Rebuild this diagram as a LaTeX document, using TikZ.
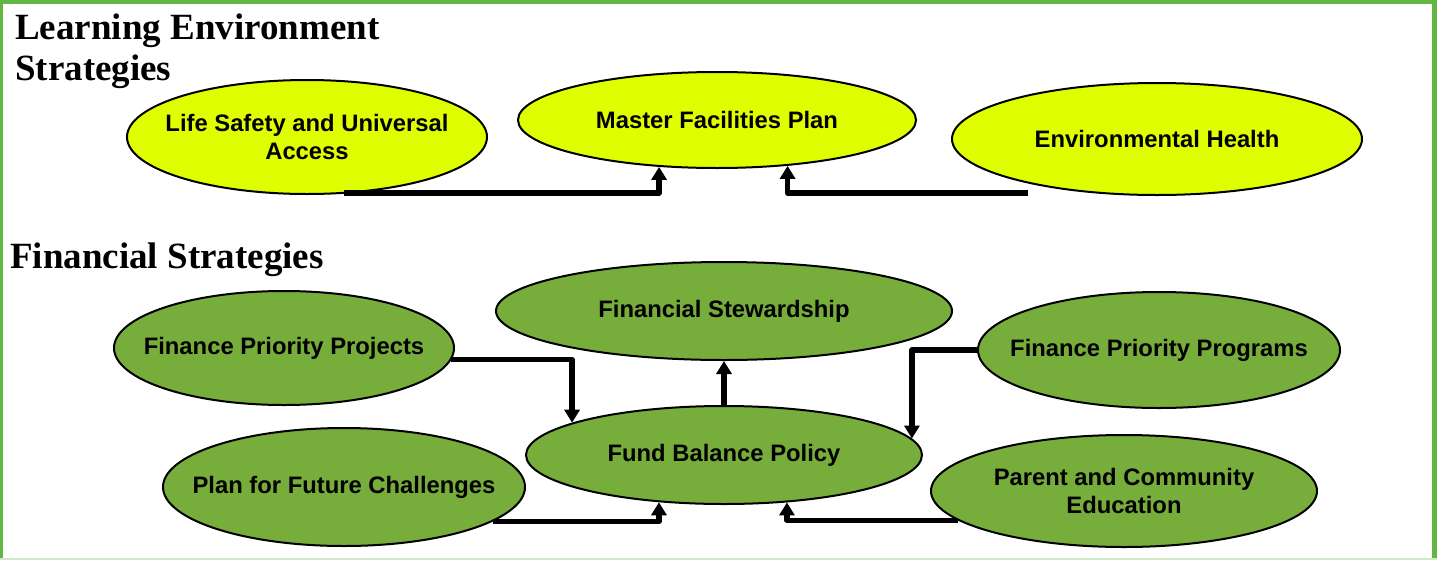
\documentclass[tikz,border=0pt]{standalone}
\usepackage{fontspec}
\setmainfont{Liberation Serif}
\setsansfont{Liberation Sans}
\usetikzlibrary{shapes.geometric,arrows.meta,calc}
\definecolor{ylw}{HTML}{DFFF00}
\definecolor{grn}{HTML}{77AD3B}
\definecolor{framegrn}{HTML}{62B744}
\begin{document}
\begin{tikzpicture}[x=1pt,y=-1pt,
  el/.style={ellipse, draw=black, line width=2pt, inner sep=-60pt,
    font=\sffamily\bfseries\fontsize{23.8}{28}\selectfont, align=center},
  conn/.style={line width=5.5pt, line join=round, -{Triangle[length=13pt,width=15pt]}},
  ttl/.style={font=\bfseries\fontsize{37}{41}\selectfont, inner sep=0pt, align=left}]
\useasboundingbox (0,0) rectangle (1437,560);
% frame
\fill[framegrn] (0,0) rectangle (1437,4);
\fill[framegrn] (0,0) rectangle (3,560);
\fill[framegrn] (1432,0) rectangle (1437,560);
\fill[framegrn!30] (0,558) rectangle (1437,560);
% titles
\node[ttl, anchor=north west] (t1) at (15,14) {Learning Environment\\Strategies};
\node[ttl, anchor=base west] (t2) at (10,268) {Financial Strategies};
% learning environment
\node[el, fill=ylw, minimum width=360pt, minimum height=114pt] (ls) at (307,137) {Life Safety and Universal\\Access};
\node[el, fill=ylw, minimum width=398pt, minimum height=96pt] (mf) at (717,120) {Master Facilities Plan};
\node[el, fill=ylw, minimum width=410pt, minimum height=112pt] (eh) at (1157,139) {Environmental Health};
% financial
\node[el, fill=grn, minimum width=456pt, minimum height=98pt] (fs) at (724,311) {Financial Stewardship};
\node[el, fill=grn, minimum width=340pt, minimum height=114pt] (fpp) at (284,348) {Finance Priority Projects};
\node[el, fill=grn, minimum width=362pt, minimum height=116pt] (fpg) at (1159,350) {Finance Priority Programs};
\node[el, fill=grn, minimum width=396pt, minimum height=98pt] (fb) at (724,455) {Fund Balance Policy};
\node[el, fill=grn, minimum width=362pt, minimum height=118pt] (pff) at (344,487) {Plan for Future Challenges};
\node[el, fill=grn, minimum width=386pt, minimum height=112pt] (pce) at (1124,491) {Parent and Community\\Education};
% connectors
\draw[conn] ($(ls.south)+(37,-2)$) -| (mf.-141);
\draw[conn] ($(eh.south)+(-129,-3)$) -| (mf.-33);
\draw[conn] (fpp.-4) -| (fb.168);
\draw[conn] (fpg.west) -| (fb.5);
\draw[conn] (fb.north) -- (fs.south);
\draw[conn] (pff.-13) -| (fb.-144);
\draw[conn] (pce.-170) -| (fb.-37);
\end{tikzpicture}
\end{document}
